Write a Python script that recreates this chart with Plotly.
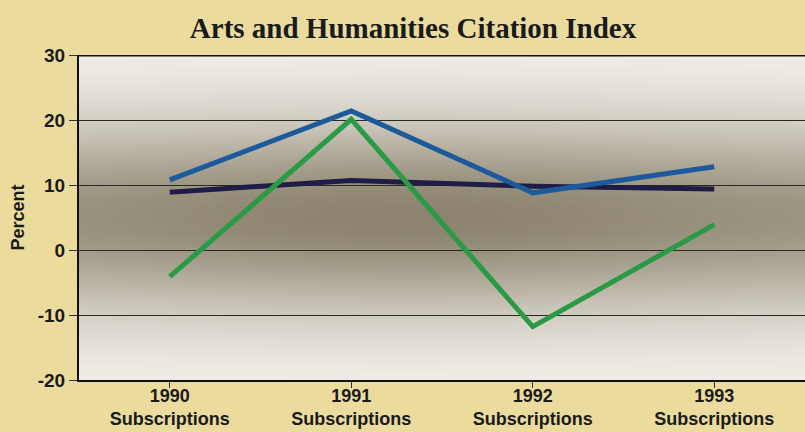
import base64, struct, zlib
import numpy as np
import plotly.graph_objects as go

categories = ["1990<br>Subscriptions", "1991<br>Subscriptions", "1992<br>Subscriptions", "1993<br>Subscriptions"]
blue_vals = [10.8, 21.4, 8.8, 12.8]
navy_vals = [8.9, 10.7, 9.8, 9.4]
green_vals = [-4.1, 20.1, -11.8, 3.9]
y_ticks = [30, 20, 10, 0, -10, -20]

# --- background gradient image for plot area (styling only) ---
W, H = 160, 130
ys = np.linspace(30, -20, H)[:, None]
xs = np.linspace(0, 1, W)[None, :]
d = np.exp(-((ys - 5.0) / 15.0) ** 2)
h = 0.8 + 0.2 * np.exp(-((xs - 0.45) / 0.45) ** 2)
t = np.clip(d * h, 0, 1)
light = np.array([246, 243, 238])
dark = np.array([140, 132, 110])
img = (light[None, None, :] + (dark - light)[None, None, :] * t[..., None]).astype(np.uint8)

def to_png(arr):
    hh, ww, _ = arr.shape
    raw = b"".join(b"\x00" + arr[r].tobytes() for r in range(hh))
    def chunk(tag, data):
        c = struct.pack(">I", len(data)) + tag + data
        return c + struct.pack(">I", zlib.crc32(tag + data) & 0xffffffff)
    return (b"\x89PNG\r\n\x1a\n" + chunk(b"IHDR", struct.pack(">IIBBBBB", ww, hh, 8, 2, 0, 0, 0))
            + chunk(b"IDAT", zlib.compress(raw, 9)) + chunk(b"IEND", b""))

png_uri = "data:image/png;base64," + base64.b64encode(to_png(img)).decode()

fig = go.Figure()
for vals, col in [(navy_vals, "#1f1c45"), (blue_vals, "#1d5a9c"), (green_vals, "#2a9a46")]:
    fig.add_trace(go.Scatter(x=categories, y=vals, mode="lines",
                             line=dict(color=col, width=5), showlegend=False,
                             hoverinfo="skip"))

fig.add_layout_image(dict(source=png_uri, xref="x domain", yref="y domain", x=0, y=1,
                          sizex=1, sizey=1, sizing="stretch", layer="below",
                          xanchor="left", yanchor="top"))

fig.add_hline(y=0, line=dict(color="#111111", width=2.5), layer="below")
fig.add_hline(y=30, line=dict(color="#111111", width=3), layer="above")

fig.update_layout(
    width=805, height=432,
    margin=dict(l=79, r=0, t=55, b=52),
    paper_bgcolor="#ebdc9e",
    plot_bgcolor="rgba(0,0,0,0)",
    title=dict(text="Arts and Humanities Citation Index", x=413/805, xanchor="center",
               y=1 - 28/432, yanchor="middle",
               font=dict(family="Liberation Serif", size=29, color="#1a1a1a", weight="bold")),
    font=dict(family="Liberation Sans", color="#1a1a1a"),
)
fig.update_xaxes(range=[-0.5, 3.5], showgrid=False, showline=True, linecolor="#111111",
                 linewidth=2, ticks="outside", ticklen=6, tickcolor="#333333", automargin=False,
                 ticklabelstandoff=-8,
                 tickfont=dict(family="Liberation Sans", size=18, color="#1a1a1a", weight="bold"),
                 zeroline=False, fixedrange=True)
fig.update_yaxes(range=[-20, 30], tickvals=y_ticks, ticktext=[str(v) for v in y_ticks],
                 showgrid=True, gridcolor="#2a2a22", gridwidth=1.2, automargin=False,
                 showline=True, linecolor="#111111", linewidth=2,
                 ticks="outside", ticklen=8, tickcolor="#333333",
                 tickfont=dict(family="Liberation Sans", size=19, color="#1a1a1a", weight="bold"),
                 title=dict(text="Percent", standoff=8,
                            font=dict(family="Liberation Sans", size=18, color="#1a1a1a", weight="bold")),
                 zeroline=False, fixedrange=True)

fig.write_html("out.html")
